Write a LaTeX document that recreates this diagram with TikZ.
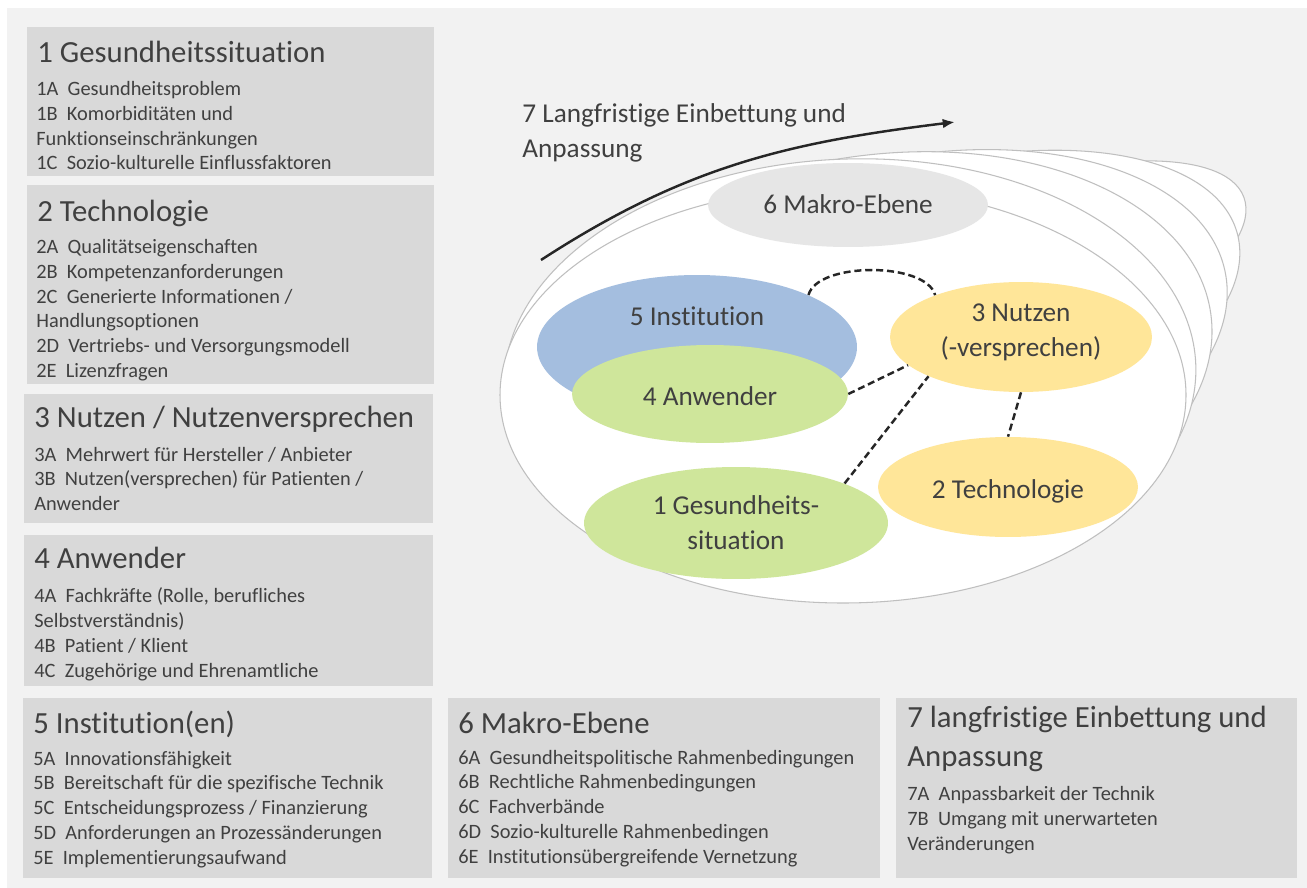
\documentclass[tikz,border=0pt]{standalone}
\usepackage{fontspec}
\setmainfont{Carlito}[Ligatures=NoCommon]
\usetikzlibrary{arrows.meta,shapes.geometric}

\definecolor{bggray}{HTML}{F2F2F2}
\definecolor{panelgray}{HTML}{D9D9D9}
\definecolor{inkgray}{HTML}{404040}
\definecolor{ringgray}{HTML}{BFBFBF}
\definecolor{makrogray}{HTML}{E6E6E6}
\definecolor{instblue}{HTML}{A4BEDF}
\definecolor{anwgreen}{HTML}{CFE69B}
\definecolor{nutzyellow}{HTML}{FFE699}

\tikzset{
  paneltitle/.style={anchor=north west, inner sep=0pt, align=left, text=inkgray,
    font=\fontsize{17.5}{22.3}\selectfont, execute at begin node=\strut},
  panelbody/.style={anchor=north west, inner sep=0pt, align=left, text=inkgray,
    font=\fontsize{11.6}{14.1}\selectfont, execute at begin node=\strut},
  ring/.style={fill=white, draw=ringgray, line width=0.6pt},
  bubble/.style={ellipse, inner sep=0pt, draw=none},
  bubtext/.style={anchor=north, inner sep=0pt, align=center, text=inkgray,
    font=\fontsize{15.5}{19.8}\selectfont, execute at begin node=\strut},
  dashlink/.style={line width=1.4pt, draw=black!85, dash pattern=on 4pt off 2.2pt},
}

\begin{document}
\begin{tikzpicture}[x=0.02cm, y=0.02cm]
\useasboundingbox (0,0) rectangle (1307,-888);
\fill[bggray] (7,-8) rectangle (1307,-888);

% Felder
\fill[panelgray] (27,-27) rectangle (434,-176);
\fill[panelgray] (27,-185) rectangle (434,-384);
\fill[panelgray] (24,-394) rectangle (433,-523);
\fill[panelgray] (24,-535) rectangle (433,-686);
\fill[panelgray] (23,-698) rectangle (432,-878);
\fill[panelgray] (448,-698) rectangle (880,-878);
\fill[panelgray] (896,-698) rectangle (1297,-878);

\node[paneltitle] (t1) at (37,-34.5) {1 Gesundheitssituation};
\node[panelbody] (b1) at (36,-81) {1A~~Gesundheitsproblem\\1B~~Komorbiditäten und\\Funktionseinschränkungen\\1C~~Sozio-kulturelle Einflussfaktoren};

\node[paneltitle] (t2) at (37,-193.5) {2 Technologie};
\node[panelbody] (b2) at (36,-239) {2A~~Qualitätseigenschaften\\2B~~Kompetenzanforderungen\\2C~~Generierte Informationen /\\Handlungsoptionen\\2D~~Vertriebs- und Versorgungsmodell\\2E~~Lizenzfragen};

\node[paneltitle] (t3) at (34,-400) {3 Nutzen / Nutzenversprechen};
\node[panelbody] (b3) at (34,-446.5) {3A~~Mehrwert für Hersteller / Anbieter\\3B~~Nutzen(versprechen) für Patienten /\\Anwender};

\node[paneltitle] (t4) at (34,-540.5) {4 Anwender};
\node[panelbody] (b4) at (34,-587.5) {4A~~Fachkräfte (Rolle, berufliches\\Selbstverständnis)\\4B~~Patient / Klient\\4C~~Zugehörige und Ehrenamtliche};

\node[paneltitle] (t5) at (33,-705.5) {5 Institution(en)};
\node[panelbody] (b5) at (33,-750.5) {5A~~Innovationsfähigkeit\\5B~~Bereitschaft für die spezifische Technik\\5C~~Entscheidungsprozess / Finanzierung\\5D~~Anforderungen an Prozessänderungen\\5E~~Implementierungsaufwand};

\node[paneltitle] (t6) at (458,-705.5) {6 Makro-Ebene};
\node[panelbody] (b6) at (458,-749.5) {6A~~Gesundheitspolitische Rahmenbedingungen\\6B~~Rechtliche Rahmenbedingungen\\6C~~Fachverbände\\6D~~Sozio-kulturelle Rahmenbedingen\\6E~~Institutionsübergreifende Vernetzung};

\node[paneltitle] (t7) at (907,-705.5) {7 langfristige Einbettung und\\Anpassung};
\node[panelbody] (b7) at (907,-786) {7A~~Anpassbarkeit der Technik\\7B~~Umgang mit unerwarteten\\Veränderungen};

% Ellipsenstapel, hinten zuerst
\foreach \cx/\cy/\rx/\ry/\rot in {962/300/300/100/20, 938/318/311/150/16, 910/338/322/180/12,
    880/360/334/205/8, 850/377/346/218/2, 843/395/343/208/0}
  \draw[ring, rotate around={\rot:(\cx,-\cy)}] (\cx,-\cy) ellipse [x radius=\rx*0.02cm, y radius=\ry*0.02cm];

\node[bubble, fill=makrogray, minimum width=5.6cm, minimum height=1.68cm] (makro) at (848,-205) {};
\node[bubble, fill=instblue, minimum width=6.4cm, minimum height=2.88cm] (inst) at (697,-347) {};
\node[bubble, fill=anwgreen, minimum width=5.52cm, minimum height=1.96cm] (anw) at (710,-394) {};
\node[bubble, fill=nutzyellow, minimum width=5.24cm, minimum height=2.2cm] (nutz) at (1021,-337) {};
\node[bubble, fill=nutzyellow, minimum width=5.2cm, minimum height=2.0cm] (tech) at (1008,-487) {};
\node[bubble, fill=anwgreen, minimum width=6.08cm, minimum height=2.24cm] (ges) at (736,-523) {};

\node[bubtext] (makrotxt) at (848,-189) {6 Makro-Ebene};
\node[bubtext] (insttxt) at (697,-301.2) {5 Institution};
\node[bubtext] (anwtxt) at (710,-381.2) {4 Anwender};
\node[bubtext] (nutztxt) at (1021,-303.5) {3 Nutzen\\(-versprechen)};
\node[bubtext] (techtxt) at (1008,-474) {2 Technologie};
\node[bubtext] (gestxt) at (736,-495) {1 Gesundheits-\\situation};

\draw[dashlink] (inst.25) to[out=75, in=105, looseness=0.7] (nutz.154);
\draw[dashlink] (anw.east) -- (nutz.194);
\draw[dashlink] (ges.20) -- (nutz.203);
\draw[dashlink] (nutz.south) -- (tech.north);

% Pfeil 7
\node[bubtext, anchor=north west, align=left] (langtxt) at (522,-103.5) {7 Langfristige Einbettung und\\Anpassung};
\coordinate (arrfrom) at (541,-260);
\coordinate (arrto) at (955,-122);
\draw[line width=1.4pt, black!85, -{Latex[length=7pt, width=5.5pt]}] (arrfrom) to[out=33, in=187] (arrto);

\end{tikzpicture}
\end{document}
